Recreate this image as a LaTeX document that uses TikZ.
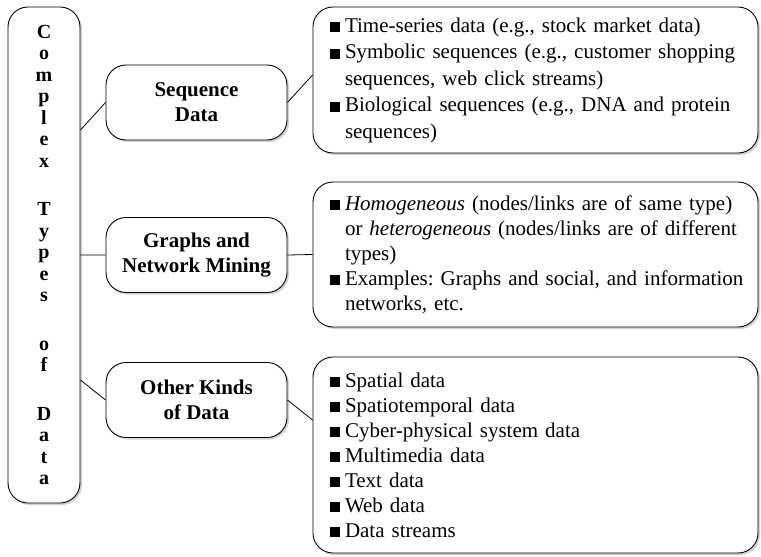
\documentclass[tikz,border=0pt]{standalone}
\usepackage{fontspec}
\setmainfont{Liberation Serif}
\usetikzlibrary{shadows}
\frenchspacing
\newcommand{\sqbul}{\makebox[15pt][l]{\rule{10pt}{10pt}}}
\newcommand{\hangin}{\hspace*{15pt}}
\begin{document}
\begin{tikzpicture}[x=1pt,y=-1pt,line join=round,
					boxbase/.style={draw,line width=0.9pt,fill=white,rounded corners=20pt,inner sep=0pt,
						drop shadow={shadow xshift=2pt,shadow yshift=-2pt,fill=black!35}},
					typebox/.style={boxbase,minimum width=72pt,minimum height=496pt,align=center,
						font=\fontsize{20}{21.5}\selectfont\bfseries},
					kindbox/.style={boxbase,minimum width=181pt,minimum height=75pt,align=center,
						font=\fontsize{21}{25}\selectfont\bfseries},
					listbox/.style={boxbase,minimum width=445pt,text width=411pt,align=left,
						font=\fontsize{21}{25}\selectfont},
					link/.style={line width=0.8pt}]
					\useasboundingbox (0,0) rectangle (761,557);
					% left column
					\node[typebox] (types) at (44,255) {C\\o\\m\\p\\l\\e\\x\\[27pt]T\\y\\p\\e\\s\\[27pt]o\\f\\[27pt]D\\a\\t\\a};
					% middle column
					\node[kindbox] (seq) at (196.5,102.5) {Sequence\\Data};
					\node[kindbox] (graph) at (196.5,255) {Graphs and\\Network Mining};
					\node[kindbox] (other) at (196.5,400) {Other Kinds\\of Data};
					% right column
					\node[listbox,minimum height=146pt,font=\fontsize{21}{26.5}\selectfont] (seqlist) at (535.5,80) {%
						\mbox{\sqbul Time-series data (e.g., stock market data)}\\
						\mbox{\sqbul Symbolic sequences (e.g., customer shopping}\\
						\mbox{\hangin sequences, web click streams)}\\
						\mbox{\sqbul Biological sequences (e.g., DNA and protein}\\
						\mbox{\hangin sequences)}};
					\node[listbox,minimum height=145pt] (graphlist) at (535.5,254.5) {%
						\mbox{\sqbul \textit{Homogeneous} (nodes/links are of same type)}\\
						\mbox{\hangin or \textit{heterogeneous} (nodes/links are of different}\\
						\mbox{\hangin types)}\\
						\mbox{\sqbul Examples: Graphs and social, and information}\\
						\mbox{\hangin networks, etc.}};
					\node[listbox,minimum height=196pt] (otherlist) at (535.5,455) {%
						\sqbul Spatial data\\
						\sqbul Spatiotemporal data\\
						\sqbul Cyber-physical system data\\
						\sqbul Multimedia data\\
						\sqbul Text data\\
						\sqbul Web data\\
						\sqbul Data streams};
					\path
					([yshift=-27.5pt]seq.west -| types.east) coordinate (t1)
					(graph.west -| types.east) coordinate (t2)
					([yshift=20pt]other.west -| types.east) coordinate (t3)
					([yshift=5pt]seqlist.west) coordinate (s1)
					([yshift=35pt]otherlist.west) coordinate (s3);
					\draw[link] (t1) -- (seq.west)
					(t2) -- (graph.west)
					(t3) -- (other.west);
					\draw[link] (seq.east) -- (s1)
					(graph.east) -- (graphlist.west)
					(other.east) -- (s3);
				\end{tikzpicture}
\end{document}
